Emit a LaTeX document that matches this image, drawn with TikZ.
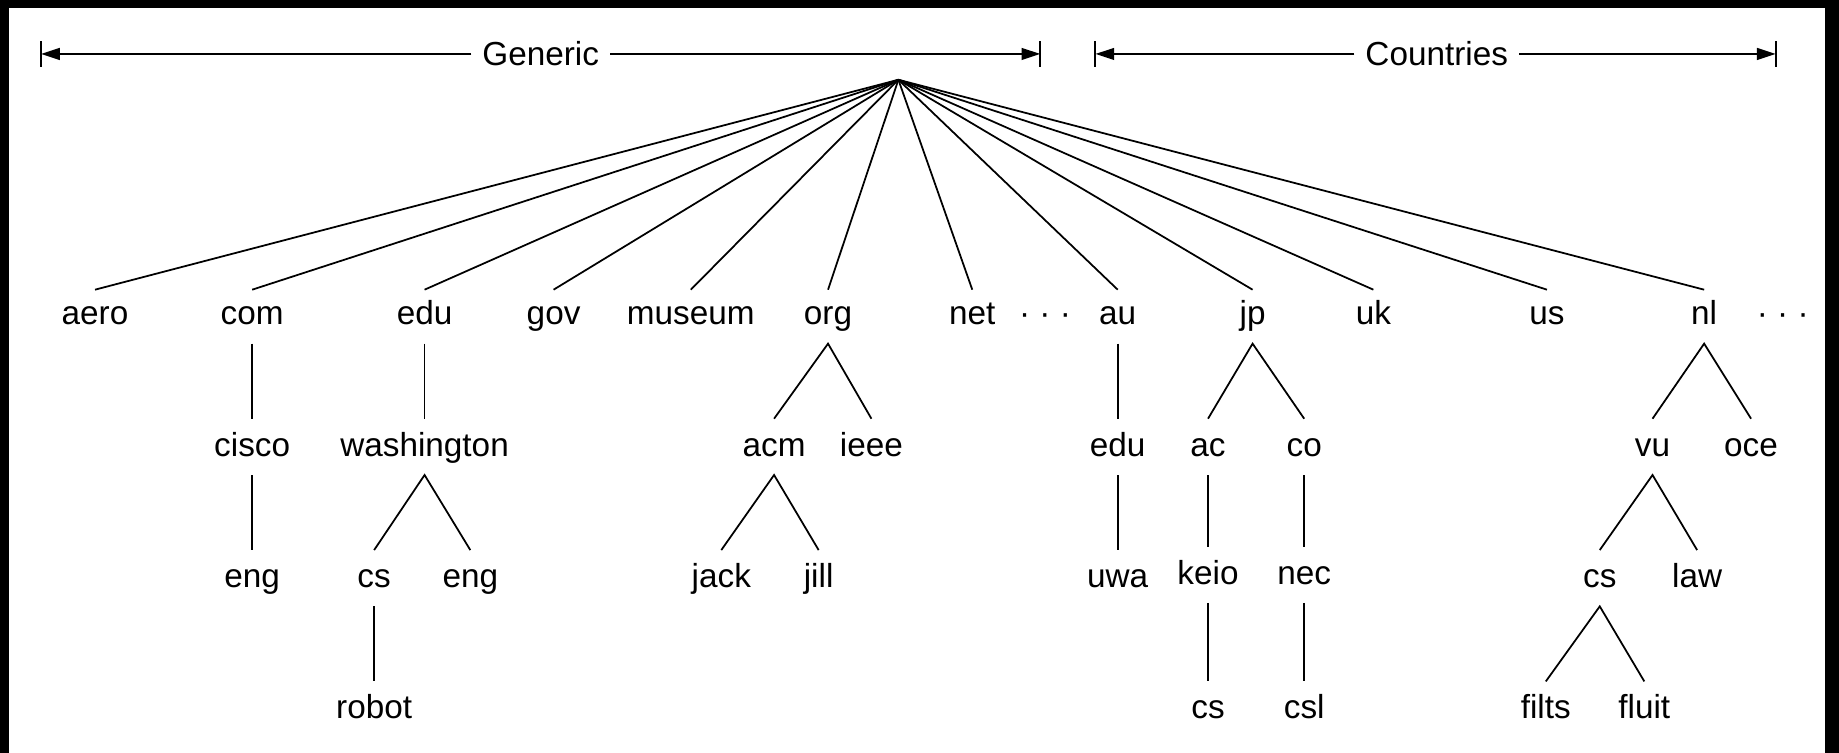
\documentclass[tikz,border=0pt]{standalone}
\usepackage{fontspec}
\setmainfont{Liberation Sans}
\usetikzlibrary{arrows.meta}
\begin{document}
\begin{tikzpicture}[x=0.5pt,y=-0.5pt,
  lab/.style={font=\fontsize{14.2}{16}\selectfont, inner sep=0pt, anchor=base},
  dimlab/.style={lab, inner xsep=4.5pt},
  edge/.style={line width=0.75pt},
  dimline/.style={line width=0.9pt, -{Triangle[length=8pt,width=5pt]}},
  dimtick/.style={line width=0.9pt}]
\fill[black] (0,0) rectangle (1568,642);
\fill[white] (8,7) rectangle (1556,642);
\useasboundingbox (0,0) rectangle (1568,642);
% dimension bars
\coordinate (gl) at (35,46);
\coordinate (gr) at (887,46);
\coordinate (cl) at (934,46);
\coordinate (cr) at (1514,46);
\node[dimlab] (generic) at (461,56) {Generic};
\node[dimlab] (countries) at (1225,56) {Countries};
\draw[dimline] (gl -| generic.west) -- (gl);
\draw[dimline] (gl -| generic.east) -- (gr);
\draw[dimline] (cl -| countries.west) -- (cl);
\draw[dimline] (cl -| countries.east) -- (cr);
\foreach \c in {gl,gr,cl,cr}
  \draw[dimtick] ([yshift=5.5pt]\c) -- ([yshift=-5.5pt]\c);
% root
\coordinate (root) at (766,68);
% level 1
\node[lab] (aero) at (81,277) {aero};
\node[lab] (com) at (215,277) {com};
\node[lab] (edu) at (362,277) {edu};
\node[lab] (gov) at (472,277) {gov};
\node[lab] (museum) at (589,277) {museum};
\node[lab] (org) at (706,277) {org};
\node[lab] (net) at (829,277) {net};
\node[lab] (dotsa) at (891,277) {· · ·};
\node[lab] (au) at (953,277) {au};
\node[lab] (jp) at (1068,277) {jp};
\node[lab] (uk) at (1171,277) {uk};
\node[lab] (us) at (1319,277) {us};
\node[lab] (nl) at (1453,277) {nl};
\node[lab] (dotsb) at (1520,277) {· · ·};
% level 2
\node[lab] (cisco) at (215,389) {cisco};
\node[lab] (wash) at (362,389) {washington};
\node[lab] (acm) at (660,389) {acm};
\node[lab] (ieee) at (743,389) {ieee};
\node[lab] (auedu) at (953,389) {edu};
\node[lab] (ac) at (1030,389) {ac};
\node[lab] (co) at (1112,389) {co};
\node[lab] (vu) at (1409,389) {vu};
\node[lab] (oce) at (1493,389) {oce};
% level 3
\node[lab] (comeng) at (215,501) {eng};
\node[lab] (wcs) at (319,501) {cs};
\node[lab] (weng) at (401,501) {eng};
\node[lab] (jack) at (615,501) {jack};
\node[lab] (jill) at (698,501) {jill};
\node[lab] (uwa) at (953,501) {uwa};
\node[lab] (keio) at (1030,498) {keio};
\node[lab] (nec) at (1112,498) {nec};
\node[lab] (nlcs) at (1364,501) {cs};
\node[lab] (law) at (1447,501) {law};
% level 4
\node[lab] (robot) at (319,613) {robot};
\node[lab] (keiocs) at (1030,613) {cs};
\node[lab] (csl) at (1112,613) {csl};
\node[lab] (filts) at (1318,613) {filts};
\node[lab] (fluit) at (1402,613) {fluit};
% root fan
\foreach \n in {aero,com,edu,gov,museum,org,net,au,jp,uk,us,nl}
  \draw[edge] (root) -- ([yshift=15pt]\n.base);
% single children
\foreach \p/\c in {com/cisco,cisco/comeng,edu/wash,wcs/robot,au/auedu,auedu/uwa,ac/keio,co/nec,keio/keiocs,nec/csl}
  \draw[edge] ([yshift=-8pt]\p.base) -- ([yshift=16pt]\c.base);
% two children
\foreach \p/\a/\b in {wash/wcs/weng,org/acm/ieee,acm/jack/jill,jp/ac/co,nl/vu/oce,vu/nlcs/law,nlcs/filts/fluit}
  \draw[edge] ([yshift=16pt]\a.base) -- ([yshift=-8pt]\p.base) -- ([yshift=16pt]\b.base);
\end{tikzpicture}
\end{document}
